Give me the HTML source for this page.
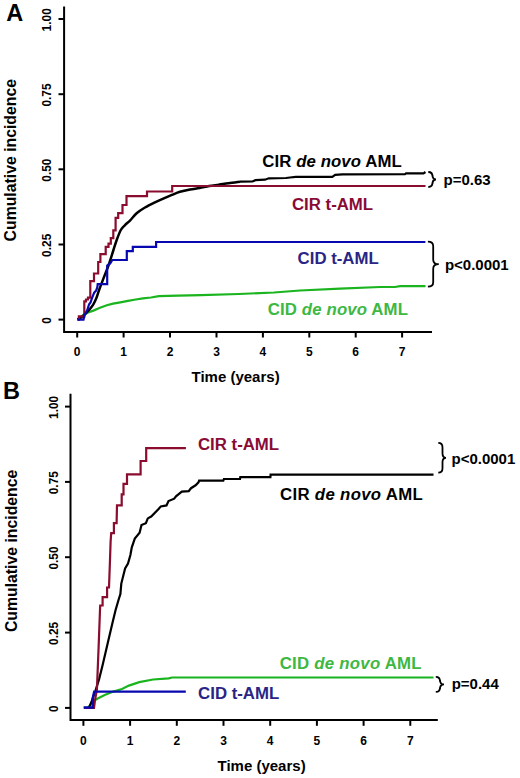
<!DOCTYPE html>
<html><head><meta charset="utf-8"><style>
html,body{margin:0;padding:0;background:#fff;}
svg{display:block;font-family:"Liberation Sans",sans-serif;font-weight:bold;}
</style></head><body>
<svg width="520" height="778" viewBox="0 0 520 778">
<rect width="520" height="778" fill="#fff"/>
<text x="6.2" y="20.8" font-size="23.5" fill="#000" text-anchor="start" >A</text>
<path d="M64.1,6.4 L64.1,331.9 L432,331.9" fill="none" stroke="#000" stroke-width="2"/>
<line x1="58.5" y1="319.6" x2="64.3" y2="319.6" stroke="#000" stroke-width="2"/>
<line x1="58.5" y1="244.5" x2="64.3" y2="244.5" stroke="#000" stroke-width="2"/>
<line x1="58.5" y1="169.3" x2="64.3" y2="169.3" stroke="#000" stroke-width="2"/>
<line x1="58.5" y1="94.2" x2="64.3" y2="94.2" stroke="#000" stroke-width="2"/>
<line x1="58.5" y1="19.0" x2="64.3" y2="19.0" stroke="#000" stroke-width="2"/>
<line x1="77.2" y1="331.9" x2="77.2" y2="337.5" stroke="#000" stroke-width="2"/>
<text x="77.2" y="356.2" font-size="12" fill="#000" text-anchor="middle" >0</text>
<line x1="123.6" y1="331.9" x2="123.6" y2="337.5" stroke="#000" stroke-width="2"/>
<text x="123.6" y="356.2" font-size="12" fill="#000" text-anchor="middle" >1</text>
<line x1="170.0" y1="331.9" x2="170.0" y2="337.5" stroke="#000" stroke-width="2"/>
<text x="170.0" y="356.2" font-size="12" fill="#000" text-anchor="middle" >2</text>
<line x1="216.5" y1="331.9" x2="216.5" y2="337.5" stroke="#000" stroke-width="2"/>
<text x="216.5" y="356.2" font-size="12" fill="#000" text-anchor="middle" >3</text>
<line x1="262.9" y1="331.9" x2="262.9" y2="337.5" stroke="#000" stroke-width="2"/>
<text x="262.9" y="356.2" font-size="12" fill="#000" text-anchor="middle" >4</text>
<line x1="309.3" y1="331.9" x2="309.3" y2="337.5" stroke="#000" stroke-width="2"/>
<text x="309.3" y="356.2" font-size="12" fill="#000" text-anchor="middle" >5</text>
<line x1="355.7" y1="331.9" x2="355.7" y2="337.5" stroke="#000" stroke-width="2"/>
<text x="355.7" y="356.2" font-size="12" fill="#000" text-anchor="middle" >6</text>
<line x1="402.1" y1="331.9" x2="402.1" y2="337.5" stroke="#000" stroke-width="2"/>
<text x="402.1" y="356.2" font-size="12" fill="#000" text-anchor="middle" >7</text>
<text transform="translate(50.8,320.4) rotate(-90)" font-size="11.9" fill="#000" text-anchor="middle">0</text>
<text transform="translate(50.8,245.3) rotate(-90)" font-size="11.9" fill="#000" text-anchor="middle">0.25</text>
<text transform="translate(50.8,170.1) rotate(-90)" font-size="11.9" fill="#000" text-anchor="middle">0.50</text>
<text transform="translate(50.8,95.0) rotate(-90)" font-size="11.9" fill="#000" text-anchor="middle">0.75</text>
<text transform="translate(50.8,19.8) rotate(-90)" font-size="11.9" fill="#000" text-anchor="middle">1.00</text>
<text transform="translate(15.6,160.2) rotate(-90)" font-size="15.8" fill="#000" text-anchor="middle">Cumulative incidence</text>
<text x="235.6" y="382.4" font-size="15.0" fill="#000" text-anchor="middle" >Time (years)</text>
<polyline points="77.5,319.2 80.0,317.5 83.8,314.8 88.0,312.5 93.4,310.6 100.0,307.8 106.8,305.2 113.0,303.6 120.3,302.3 128.0,300.8 135.7,299.5 143.0,298.4 151.0,297.5 158.8,296.2 178.0,295.6 201.0,295.2 239.0,294.0 274.0,292.5 300.0,290.5 340.0,288.7 380.0,287.0 395.0,287.0 400.0,286.2 425.5,286.2" fill="none" stroke="#19b41e" stroke-width="2.2" stroke-linejoin="miter" stroke-linecap="butt"/>
<path d="M77.50,319.40 C77.92,319.20 78.98,318.85 80.00,318.20 C81.02,317.55 82.13,316.83 83.60,315.50 C85.07,314.17 87.20,312.02 88.80,310.20 C90.40,308.38 91.90,306.72 93.20,304.60 C94.50,302.48 95.58,300.02 96.60,297.50 C97.62,294.98 98.00,293.08 99.30,289.50 C100.60,285.92 102.78,280.25 104.40,276.00 C106.02,271.75 107.52,268.25 109.00,264.00 C110.48,259.75 112.02,254.50 113.30,250.50 C114.58,246.50 115.45,243.42 116.70,240.00 C117.95,236.58 119.45,232.45 120.80,230.00 C122.15,227.55 123.23,226.92 124.80,225.30 C126.37,223.68 128.18,222.35 130.20,220.30 C132.22,218.25 134.43,215.13 136.90,213.00 C139.37,210.87 142.08,209.23 145.00,207.50 C147.92,205.77 151.27,204.13 154.40,202.60 C157.53,201.07 160.88,199.58 163.80,198.30 C166.72,197.02 169.20,195.98 171.90,194.90 C174.60,193.82 176.98,192.70 180.00,191.80 C183.02,190.90 186.73,190.13 190.00,189.50 C193.27,188.87 196.40,188.57 199.60,188.00 C202.80,187.43 206.00,186.65 209.20,186.10 C212.40,185.55 215.58,185.18 218.80,184.70 C222.02,184.22 224.97,183.70 228.50,183.20 C232.03,182.70 238.08,181.95 240.00,181.70" fill="none" stroke="#000" stroke-width="2.5" stroke-linejoin="round"/>
<polyline points="240.0,181.7 252.5,181.5 255.4,180.2 265.0,179.7 268.8,178.3 286.0,178.0 290.0,177.5 295.8,176.9 332.3,176.9 335.2,174.8 342.5,174.3 405.0,174.2 406.0,173.3 423.5,173.3 425.5,172.0" fill="none" stroke="#000" stroke-width="2.2" stroke-linejoin="miter" stroke-linecap="butt"/>
<polyline points="77.5,319.6 78.9,319.6 78.9,316.4 84.3,316.4 84.3,301.3 86.0,301.3 86.0,299.5 88.0,299.5 88.0,297.7 90.3,297.7 90.3,281.1 94.0,281.1 94.0,273.5 98.2,273.5 98.2,262.0 100.4,262.0 100.4,254.2 105.7,254.2 105.7,246.8 108.5,246.8 108.5,243.6 110.8,243.6 110.8,238.2 113.3,238.2 113.3,230.3 115.6,230.3 115.6,217.8 118.2,217.8 118.2,213.2 122.5,213.2 122.5,205.0 126.5,205.0 126.5,196.2 147.0,196.2 147.0,191.5 172.2,191.5 172.2,186.0 425.5,186.0" fill="none" stroke="#8a0c2e" stroke-width="2.2" stroke-linejoin="miter" stroke-linecap="butt"/>
<polyline points="77.4,319.6 83.5,319.6 84.5,315.0 86.0,312.5 87.3,310.0 89.0,304.5 90.5,302.5 91.9,298.4 94.2,292.7 96.2,290.5 97.3,287.5 97.7,284.2 107.2,284.2 107.2,265.5 110.2,263.5 112.3,260.0 126.8,260.0 126.8,251.2 132.8,251.2 132.8,246.8 156.1,246.8 156.1,242.0 425.4,242.0" fill="none" stroke="#0808b0" stroke-width="2.2" stroke-linejoin="miter" stroke-linecap="butt"/>
<path d="M428.3,172 Q432.5,172 432.5,176.5 L432.5,175.0 Q432.5,179.5 436,179.5 Q432.5,179.5 432.5,184.0 L432.5,182.5 Q432.5,187 428.3,187" fill="none" stroke="#000" stroke-width="1.8"/>
<path d="M427.9,241.6 Q433.2,241.6 433.2,246.1 L433.2,259.65 Q433.2,264.15 438.8,264.15 Q433.2,264.15 433.2,268.65 L433.2,282.2 Q433.2,286.7 427.9,286.7" fill="none" stroke="#000" stroke-width="1.8"/>
<text x="262.2" y="166.6" font-size="16.8" fill="#000" text-anchor="start"  textLength="139.6" lengthAdjust="spacing">CIR <tspan font-style="italic">de novo</tspan> AML</text>
<text x="292" y="210" font-size="16.8" fill="#8a0a36" text-anchor="start" >CIR t-AML</text>
<text x="297.6" y="263.7" font-size="16.8" fill="#2a2585" text-anchor="start" >CID t-AML</text>
<text x="267.7" y="314.6" font-size="16.8" fill="#3db842" text-anchor="start"  textLength="140.3" lengthAdjust="spacing">CID <tspan font-style="italic">de novo</tspan> AML</text>
<text x="443.5" y="185.4" font-size="15.0" fill="#000" text-anchor="start" >p=0.63</text>
<text x="444.9" y="269.8" font-size="15.0" fill="#000" text-anchor="start" >p&lt;0.0001</text>
<text x="2.9" y="398.8" font-size="23.5" fill="#000" text-anchor="start" >B</text>
<path d="M70.5,393.7 L70.5,719.9 L437.8,719.9" fill="none" stroke="#000" stroke-width="2"/>
<line x1="65" y1="707.9" x2="70.5" y2="707.9" stroke="#000" stroke-width="2"/>
<line x1="65" y1="632.6" x2="70.5" y2="632.6" stroke="#000" stroke-width="2"/>
<line x1="65" y1="557.2" x2="70.5" y2="557.2" stroke="#000" stroke-width="2"/>
<line x1="65" y1="481.9" x2="70.5" y2="481.9" stroke="#000" stroke-width="2"/>
<line x1="65" y1="406.6" x2="70.5" y2="406.6" stroke="#000" stroke-width="2"/>
<line x1="83.4" y1="719.9" x2="83.4" y2="725.8" stroke="#000" stroke-width="2"/>
<text x="83.4" y="744.8" font-size="12" fill="#000" text-anchor="middle" >0</text>
<line x1="130.1" y1="719.9" x2="130.1" y2="725.8" stroke="#000" stroke-width="2"/>
<text x="130.1" y="744.8" font-size="12" fill="#000" text-anchor="middle" >1</text>
<line x1="176.8" y1="719.9" x2="176.8" y2="725.8" stroke="#000" stroke-width="2"/>
<text x="176.8" y="744.8" font-size="12" fill="#000" text-anchor="middle" >2</text>
<line x1="223.5" y1="719.9" x2="223.5" y2="725.8" stroke="#000" stroke-width="2"/>
<text x="223.5" y="744.8" font-size="12" fill="#000" text-anchor="middle" >3</text>
<line x1="270.2" y1="719.9" x2="270.2" y2="725.8" stroke="#000" stroke-width="2"/>
<text x="270.2" y="744.8" font-size="12" fill="#000" text-anchor="middle" >4</text>
<line x1="316.9" y1="719.9" x2="316.9" y2="725.8" stroke="#000" stroke-width="2"/>
<text x="316.9" y="744.8" font-size="12" fill="#000" text-anchor="middle" >5</text>
<line x1="363.6" y1="719.9" x2="363.6" y2="725.8" stroke="#000" stroke-width="2"/>
<text x="363.6" y="744.8" font-size="12" fill="#000" text-anchor="middle" >6</text>
<line x1="410.3" y1="719.9" x2="410.3" y2="725.8" stroke="#000" stroke-width="2"/>
<text x="410.3" y="744.8" font-size="12" fill="#000" text-anchor="middle" >7</text>
<text transform="translate(57.5,708.7) rotate(-90)" font-size="11.9" fill="#000" text-anchor="middle">0</text>
<text transform="translate(57.5,633.4) rotate(-90)" font-size="11.9" fill="#000" text-anchor="middle">0.25</text>
<text transform="translate(57.5,558.0) rotate(-90)" font-size="11.9" fill="#000" text-anchor="middle">0.50</text>
<text transform="translate(57.5,482.7) rotate(-90)" font-size="11.9" fill="#000" text-anchor="middle">0.75</text>
<text transform="translate(57.5,407.4) rotate(-90)" font-size="11.9" fill="#000" text-anchor="middle">1.00</text>
<text transform="translate(16.9,550.9) rotate(-90)" font-size="15.8" fill="#000" text-anchor="middle">Cumulative incidence</text>
<text x="261.6" y="771.2" font-size="15.0" fill="#000" text-anchor="middle" >Time (years)</text>
<polyline points="84.0,708.0 88.3,707.5 91.0,704.0 94.1,700.7 97.7,698.5 104.7,695.1 113.3,691.6 122.0,689.0 128.9,685.6 139.3,682.1 153.1,679.5 168.7,678.3 172.1,677.5 433.5,677.5" fill="none" stroke="#19b41e" stroke-width="2.2" stroke-linejoin="miter" stroke-linecap="butt"/>
<polyline points="84.0,708.0 86.5,708.0 89.0,707.9 91.9,700.7 95.5,690.6 99.1,679.1 102.7,664.7 107.7,643.2 112.8,621.6 115.6,610.0 118.5,600.0 120.4,594.1 121.3,583.6 125.1,568.4 128.0,563.6 130.4,555.0 131.8,547.4 134.8,538.6 139.6,532.8 141.5,525.1 145.9,523.2 147.8,518.4 151.2,516.5 158.8,508.8 160.8,506.4 166.5,505.4 168.5,501.1 174.2,498.7 176.0,496.3 181.8,491.6 188.7,491.1 191.0,488.2 195.6,485.3 198.5,482.4 199.1,480.7 223.3,480.7 223.9,479.0 240.0,479.0 240.3,477.2 270.4,477.2 270.6,474.7 433.5,474.7" fill="none" stroke="#000" stroke-width="2.2" stroke-linejoin="miter" stroke-linecap="butt"/>
<polyline points="84.0,708.0 94.0,708.0 95.0,700.0 96.9,689.7 98.5,650.0 100.0,610.0 100.2,605.5 102.6,605.5 102.6,597.1 107.1,597.1 107.1,587.5 109.0,587.5 110.0,560.0 110.6,541.6 111.2,533.2 113.9,533.2 113.9,523.1 116.6,523.1 117.0,505.4 121.7,505.4 121.7,494.3 123.5,494.3 123.5,483.9 127.0,483.9 127.0,474.3 140.6,474.3 140.6,461.0 146.2,461.0 146.2,448.1 185.9,448.1" fill="none" stroke="#8a0c2e" stroke-width="2.2" stroke-linejoin="miter" stroke-linecap="butt"/>
<polyline points="83.6,707.5 92.8,707.5 92.8,697.8 94.2,691.6 185.8,691.6" fill="none" stroke="#0808b0" stroke-width="2.4" stroke-linejoin="miter" stroke-linecap="butt"/>
<path d="M438.3,442.9 Q442.5,442.9 442.5,447.4 L442.5,453.29999999999995 Q442.5,457.79999999999995 446,457.79999999999995 Q442.5,457.79999999999995 442.5,462.29999999999995 L442.5,468.2 Q442.5,472.7 438.3,472.7" fill="none" stroke="#000" stroke-width="1.8"/>
<path d="M435.8,676.9 Q440,676.9 440,681.4 L440,679.9 Q440,684.4 444,684.4 Q440,684.4 440,688.9 L440,687.4 Q440,691.9 435.8,691.9" fill="none" stroke="#000" stroke-width="1.8"/>
<text x="198" y="450.3" font-size="16.8" fill="#8a0a36" text-anchor="start" >CIR t-AML</text>
<text x="451.5" y="463.8" font-size="15.0" fill="#000" text-anchor="start" >p&lt;0.0001</text>
<text x="280" y="499.8" font-size="16.8" fill="#000" text-anchor="start"  textLength="142.8" lengthAdjust="spacing">CIR <tspan font-style="italic">de novo</tspan> AML</text>
<text x="279.7" y="668.5" font-size="16.8" fill="#3db842" text-anchor="start"  textLength="141.9" lengthAdjust="spacing">CID <tspan font-style="italic">de novo</tspan> AML</text>
<text x="451.7" y="689" font-size="15.0" fill="#000" text-anchor="start" >p=0.44</text>
<text x="198.1" y="699" font-size="16.8" fill="#2a2585" text-anchor="start" >CID t-AML</text>
</svg>
</body></html>
